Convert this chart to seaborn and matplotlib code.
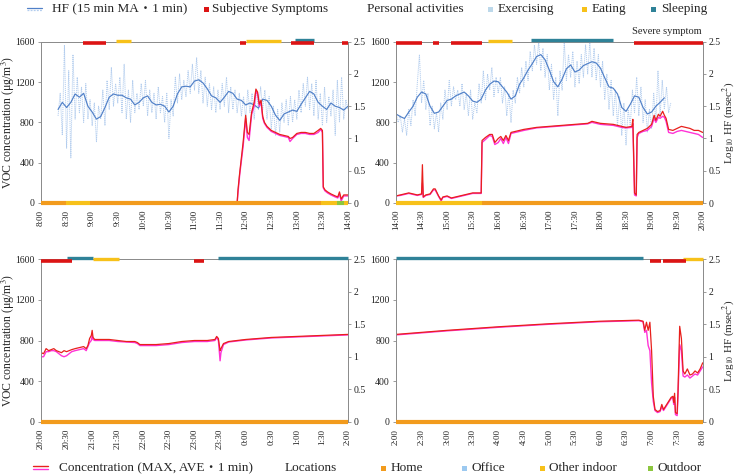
import numpy as np
import pandas as pd
import matplotlib
matplotlib.use("Agg")
import matplotlib.pyplot as plt
import seaborn as sns
from matplotlib.lines import Line2D
from matplotlib.patches import Rectangle

# ---------------- data ----------------
ticks_1 = ["8:00", "8:30", "9:00", "9:30", "10:00", "10:30", "11:00", "11:30", "12:00", "12:30", "13:00", "13:30", "14:00"]
ticks_2 = ["14:00", "14:30", "15:00", "15:30", "16:00", "16:30", "17:00", "17:30", "18:00", "18:30", "19:00", "19:30", "20:00"]
ticks_3 = ["20:00", "20:30", "21:00", "21:30", "22:00", "22:30", "23:00", "23:30", "0:00", "0:30", "1:00", "1:30", "2:00"]
ticks_4 = ["2:00", "2:30", "3:00", "3:30", "4:00", "4:30", "5:00", "5:30", "6:00", "6:30", "7:00", "7:30", "8:00"]

# HF, 15 min moving average (log10 msec^2), one value every 5 min
hf_ma_1_start = "8:20"
hf_ma_1 = [1.45, 1.56, 1.48, 1.56, 1.69, 1.64, 1.70, 1.50, 1.41, 1.30, 1.34, 1.48,
           1.64, 1.69, 1.67, 1.67, 1.63, 1.61, 1.52, 1.56, 1.63, 1.66, 1.56, 1.52,
           1.53, 1.50, 1.41, 1.50, 1.69, 1.80, 1.81, 1.80, 1.89, 1.91, 1.86, 1.77,
           1.66, 1.63, 1.56, 1.64, 1.73, 1.70, 1.61, 1.59, 1.52, 1.55, 1.52, 1.47,
           1.61, 1.59, 1.50, 1.36, 1.28, 1.38, 1.41, 1.44, 1.42, 1.53, 1.63, 1.73,
           1.69, 1.56, 1.50, 1.45, 1.55, 1.50, 1.48, 1.44, 1.50]
hf_ma_2_start = "14:00"
hf_ma_2 = [1.38, 1.34, 1.31, 1.41, 1.50, 1.64, 1.72, 1.69, 1.50, 1.39, 1.41, 1.50,
           1.59, 1.61, 1.66, 1.69, 1.72, 1.66, 1.58, 1.56, 1.61, 1.75, 1.84, 1.89,
           1.88, 1.80, 1.72, 1.61, 1.66, 1.84, 1.94, 2.06, 2.16, 2.27, 2.30, 2.22,
           2.06, 1.88, 1.80, 1.92, 2.08, 2.14, 2.03, 2.06, 2.13, 2.16, 2.19, 2.17,
           2.09, 1.94, 1.80, 1.78, 1.69, 1.48, 1.42, 1.53, 1.66, 1.64, 1.48, 1.38,
           1.41, 1.50, 1.56, 1.63]

# HF, 1 min values (sampled every 2.5 min)
hf_raw_1_start = "8:20"
hf_raw_1 = [1.35, 1.70, 1.05, 2.45, 0.85, 2.05, 0.70, 2.30, 1.30, 1.95, 1.40, 1.80,
            1.25, 1.85, 1.30, 1.60, 1.20, 1.55, 0.95, 1.50, 1.30, 1.75, 1.20, 1.90,
            1.45, 2.10, 1.50, 1.85, 1.55, 1.95, 1.40, 2.15, 1.30, 1.75, 1.25, 1.90,
            1.40, 1.70, 1.45, 1.85, 1.50, 1.90, 1.35, 1.75, 1.40, 1.70, 1.30, 1.80,
            1.40, 1.65, 1.25, 1.70, 1.00, 1.60, 1.35, 1.95, 1.55, 2.00, 1.60, 1.90,
            1.65, 2.05, 1.70, 2.15, 1.75, 2.25, 1.70, 2.05, 1.55, 1.95, 1.50, 1.85,
            1.45, 1.80, 1.40, 1.75, 1.45, 1.85, 1.50, 1.95, 1.40, 1.80, 1.45, 1.75,
            1.40, 1.70, 1.35, 1.65, 1.30, 1.75, 1.40, 1.70, 1.30, 1.75, 1.45, 1.80,
            1.45, 1.75, 1.30, 1.65, 1.15, 1.50, 1.05, 1.45, 1.10, 1.55, 1.25, 1.60,
            1.20, 1.65, 1.25, 1.60, 1.30, 1.75, 1.40, 1.85, 1.50, 1.95, 1.45, 1.85,
            1.35, 1.90, 1.30, 1.70, 1.20, 1.80, 1.25, 1.65, 1.35, 1.75, 1.05, 1.90,
            1.25, 1.95, 1.30, 1.60, 1.45]
hf_raw_2_start = "14:00"
hf_raw_2 = [1.40, 1.25, 1.35, 1.10, 1.30, 1.05, 1.45, 1.20, 1.60, 1.35, 1.85, 2.30,
            1.55, 1.90, 1.45, 1.70, 1.20, 1.50, 1.15, 1.40, 1.10, 1.55, 1.30, 1.75,
            1.45, 1.90, 1.50, 1.80, 1.60, 1.75, 1.50, 1.85, 1.45, 1.70, 1.35, 1.75,
            1.30, 1.55, 1.40, 1.85, 1.55, 2.05, 1.60, 2.00, 1.75, 2.10, 1.65, 1.95,
            1.70, 1.95, 1.55, 1.80, 1.35, 1.70, 1.25, 1.75, 1.55, 1.95, 1.70, 2.10,
            1.80, 2.20, 1.90, 2.35, 2.05, 2.45, 2.15, 2.50, 2.05, 2.40, 1.95, 2.30,
            1.75, 2.15, 1.60, 1.95, 1.35, 2.05, 1.75, 2.50, 1.90, 2.30, 1.95, 2.35,
            1.80, 2.20, 1.85, 2.30, 1.95, 2.45, 2.00, 2.50, 1.95, 2.40, 1.90, 2.30,
            1.80, 2.20, 1.60, 2.00, 1.45, 1.90, 1.35, 1.75, 1.20, 1.65, 1.05, 1.55,
            0.90, 1.45, 1.20, 1.75, 1.40, 1.95, 1.35, 1.80, 1.25, 1.60, 1.10, 1.45,
            1.15, 1.70, 1.25, 2.05, 1.35, 1.90, 1.45, 1.80, 1.40, 1.55]

# VOC concentration (ug/m3), MAX and AVE of 1 min
conc_1_time = ["11:50", "11:51", "11:53", "11:57", "12:00", "12:02", "12:04", "12:07", "12:10", "12:12",
               "12:14", "12:16", "12:18", "12:20", "12:22", "12:25", "12:30", "12:35", "12:40", "12:45",
               "12:50", "12:52", "12:55", "13:00", "13:05", "13:10", "13:15", "13:20", "13:25", "13:28",
               "13:30", "13:31", "13:33", "13:36", "13:40", "13:45", "13:48", "13:50", "13:52", "13:55", "14:00"]
conc_1_max = [0, 130, 300, 600, 870, 700, 680, 900, 1000, 1130, 1100, 980, 1020, 860, 800, 760, 720, 700, 680, 670,
              660, 640, 650, 690, 700, 700, 690, 690, 720, 740, 720, 160, 130, 110, 90, 70, 60, 110, 40, 80, 80]
conc_1_ave = [0, 100, 280, 560, 840, 650, 620, 880, 960, 1110, 1080, 960, 1000, 840, 790, 750, 710, 690, 670, 660,
              650, 610, 640, 680, 690, 690, 680, 680, 700, 730, 700, 150, 120, 100, 80, 60, 50, 90, 20, 70, 70]

conc_2_time = ["14:00", "14:05", "14:10", "14:15", "14:20", "14:25", "14:30", "14:31", "14:32", "14:35",
               "14:40", "14:44", "14:46", "14:50", "14:53", "14:55", "15:00", "15:05", "15:10", "15:20",
               "15:30", "15:40", "15:41", "15:45", "15:50", "15:53", "15:56", "16:00", "16:03", "16:06",
               "16:09", "16:12", "16:15", "16:20", "16:30", "16:45", "17:00", "17:15", "17:30", "17:45",
               "17:50", "18:00", "18:15", "18:25", "18:30", "18:37", "18:38", "18:40", "18:42", "18:43",
               "18:45", "18:50", "18:55", "19:00", "19:03", "19:05", "19:08", "19:10", "19:13", "19:15",
               "19:17", "19:20", "19:25", "19:30", "19:35", "19:40", "19:45", "19:50", "19:55", "20:00"]
conc_2_max = [70, 80, 90, 100, 90, 80, 90, 380, 60, 80, 90, 140, 140, 70, 30, 60, 70, 50, 60, 80,
              100, 100, 620, 650, 680, 680, 600, 640, 660, 620, 670, 620, 700, 710, 730, 750, 760, 770, 780, 790,
              810, 790, 780, 760, 750, 760, 830, 100, 80, 680, 700, 720, 740, 780, 870, 820, 880, 860, 910, 870,
              840, 730, 720, 740, 760, 750, 740, 720, 720, 700]
conc_2_ave = [70, 75, 85, 95, 85, 75, 85, 200, 55, 75, 85, 130, 130, 65, 20, 55, 65, 45, 55, 75,
              95, 95, 600, 630, 670, 660, 580, 600, 640, 590, 650, 590, 690, 700, 720, 745, 755, 765, 775, 785,
              800, 780, 770, 750, 745, 750, 790, 80, 70, 650, 690, 710, 720, 760, 840, 800, 850, 840, 860, 850,
              810, 700, 690, 710, 720, 710, 700, 690, 680, 650]

conc_3_time = ["20:00", "20:03", "20:06", "20:09", "20:12", "20:15", "20:18", "20:21", "20:24", "20:27",
               "20:30", "20:33", "20:36", "20:40", "20:45", "20:50", "20:53", "20:55", "20:57", "20:59",
               "21:00", "21:01", "21:03", "21:10", "21:20", "21:30", "21:40", "21:50", "21:53", "21:56",
               "22:00", "22:15", "22:30", "22:45", "23:00", "23:15", "23:24", "23:26", "23:28", "23:30",
               "23:31", "23:34", "23:40", "23:50", "0:00", "0:30", "1:00", "1:30", "2:00"]
conc_3_max = [680, 670, 720, 700, 710, 720, 700, 690, 680, 700, 690, 700, 710, 720, 730, 740, 720, 750, 820, 850,
              900, 830, 810, 810, 810, 800, 790, 790, 780, 760, 760, 760, 770, 790, 800, 800, 810, 840, 820, 700,
              720, 770, 790, 800, 810, 830, 840, 850, 860]
conc_3_ave = [640, 640, 690, 690, 700, 700, 690, 670, 650, 640, 650, 670, 690, 700, 710, 720, 700, 740, 780, 800,
              850, 810, 800, 800, 800, 790, 785, 780, 770, 750, 750, 750, 760, 780, 790, 790, 800, 830, 800, 600,
              680, 760, 785, 795, 805, 825, 835, 845, 855]

conc_4_time = ["2:00", "3:00", "4:00", "5:00", "6:00", "6:45", "6:50", "6:52", "6:54", "6:56",
               "6:58", "7:00", "7:02", "7:04", "7:07", "7:10", "7:12", "7:14", "7:17", "7:20",
               "7:23", "7:25", "7:26", "7:27", "7:28", "7:30", "7:31", "7:33", "7:35", "7:37",
               "7:39", "7:42", "7:45", "7:48", "7:51", "7:54", "7:57", "8:00"]
conc_4_max = [860, 900, 935, 965, 990, 1000, 990, 900, 980, 900, 980, 700, 250, 120, 100, 110, 170, 120, 160, 200,
              240, 250, 190, 280, 90, 80, 300, 940, 820, 500, 470, 520, 460, 470, 500, 480, 520, 580]
conc_4_ave = [855, 895, 930, 960, 985, 995, 985, 880, 900, 750, 700, 380, 200, 110, 90, 100, 150, 110, 150, 190,
              230, 240, 170, 240, 70, 60, 250, 760, 700, 450, 440, 460, 430, 450, 470, 460, 500, 540]

# intervals (start, end)
symptoms_1 = [("8:49", "9:16"), ("11:53", "12:00"), ("12:53", "13:20"), ("13:53", "14:00")]
symptoms_2 = [("14:00", "14:31"), ("14:44", "14:51"), ("15:04", "15:41"), ("18:39", "20:00")]
symptoms_3 = [("20:00", "20:36"), ("22:59", "23:11")]
symptoms_4 = [("6:58", "7:11"), ("7:13", "7:40")]

eating_1 = [("9:28", "9:46"), ("12:00", "12:41")]
eating_2 = [("15:48", "16:16")]
eating_3 = [("21:01", "21:31")]
eating_4 = [("7:37", "8:00")]
sleeping_1 = [("12:58", "13:20")]
sleeping_2 = [("16:38", "18:15")]
sleeping_3 = [("20:30", "21:01"), ("23:28", "2:00")]
sleeping_4 = [("2:00", "6:50")]

home_1 = [("8:00", "8:29"), ("8:57", "13:28")]
other_1 = [("8:29", "8:57"), ("13:28", "13:47"), ("13:55", "14:00")]
outdoor_1 = [("13:47", "13:55")]
home_2 = [("15:41", "20:00")]
other_2 = [("14:00", "15:41")]
home_3 = [("20:00", "2:00")]
home_4 = [("2:00", "8:00")]

# ---------------- style ----------------
C_MA = "#5080c8"
C_RAW = "#b3cdee"
C_MAX = "#e8201c"
C_AVE = "#ff33d6"
C_SYM = "#dc1414"
C_EXER = "#bcd8ea"
C_EAT = "#f7c11a"
C_SLEEP = "#2f8298"
C_HOME = "#f29b1d"
C_OFFICE = "#9cc9f0"
C_OTHER = "#f7c11a"
C_OUT = "#8cc63e"
C_AX = "#8c8c8c"

sns.set_style("white")
plt.rcParams['font.family'] = ['Liberation Serif', 'Noto Sans CJK JP', 'DejaVu Sans']
plt.rcParams['mathtext.fontset'] = 'stix'


def to_h(s, start):
    h, m = s.split(":")
    t = int(h) + int(m) / 60
    if t < start - 1e-9:
        t += 24
    return t


def grid_times(start_str, start, n, step_min):
    t0 = to_h(start_str, start)
    return [t0 + i * step_min / 60 for i in range(n)]


panels = [
    dict(start=8, ticks=ticks_1, pos=(41, 41.7, 348, 203),
         conc=(conc_1_time, conc_1_max, conc_1_ave),
         hf=(hf_ma_1_start, hf_ma_1, hf_raw_1_start, hf_raw_1),
         sym=symptoms_1, eat=eating_1, sleep=sleeping_1,
         home=home_1, other=other_1, out=outdoor_1),
    dict(start=14, ticks=ticks_2, pos=(396, 41.7, 702.7, 203),
         conc=(conc_2_time, conc_2_max, conc_2_ave),
         hf=(hf_ma_2_start, hf_ma_2, hf_raw_2_start, hf_raw_2),
         sym=symptoms_2, eat=eating_2, sleep=sleeping_2,
         home=home_2, other=other_2, out=[]),
    dict(start=20, ticks=ticks_3, pos=(41, 259.3, 348, 421.7),
         conc=(conc_3_time, conc_3_max, conc_3_ave), hf=None,
         sym=symptoms_3, eat=eating_3, sleep=sleeping_3,
         home=home_3, other=[], out=[]),
    dict(start=2, ticks=ticks_4, pos=(396, 259.3, 702.7, 421.7),
         conc=(conc_4_time, conc_4_max, conc_4_ave), hf=None,
         sym=symptoms_4, eat=eating_4, sleep=sleeping_4,
         home=home_4, other=[], out=[]),
]

W, H = 737, 474
fig = plt.figure(figsize=(W / 100, H / 100), dpi=100)


def fx(px):
    return px / W


def fy(py):
    return 1 - py / H


def bands(ax, intervals, start, y, color, lw):
    if not intervals:
        return
    xs = [to_h(a, start) for a, b in intervals]
    xe = [to_h(b, start) for a, b in intervals]
    xe = [e if e > s else e + 24 for s, e in zip(xs, xe)]
    ax.hlines([y] * len(xs), xs, xe, colors=color, lw=lw, clip_on=False, zorder=5)


for i, p in enumerate(panels):
    x0, y0, x1, y1 = p["pos"]
    ax = fig.add_axes([fx(x0), fy(y1), fx(x1 - x0), (y1 - y0) / H])
    tw = ax.twinx()
    st = p["start"]

    if p["hf"] is not None:
        ma_start, ma, raw_start, raw = p["hf"]
        raw_df = pd.DataFrame({"t": grid_times(raw_start, st, len(raw), 2.5), "hf": raw})
        ma_df = pd.DataFrame({"t": grid_times(ma_start, st, len(ma), 5), "hf": ma})
        sns.lineplot(data=raw_df, x="t", y="hf", ax=tw, color=C_RAW, lw=0.7,
                     linestyle=(0, (1.2, 0.9)), estimator=None)
        sns.lineplot(data=ma_df, x="t", y="hf", ax=tw, color=C_MA, lw=0.85, estimator=None)

    ct, cmax, cave = p["conc"]
    cdf = pd.DataFrame({"t": [to_h(s, st) for s in ct], "max": cmax, "ave": cave})
    sns.lineplot(data=cdf, x="t", y="ave", ax=ax, color=C_AVE, lw=1.0, estimator=None)
    sns.lineplot(data=cdf, x="t", y="max", ax=ax, color=C_MAX, lw=0.9, estimator=None)

    # activity / symptom / location bands
    bands(ax, p["sleep"], st, 1612, C_SLEEP, 2.4)
    bands(ax, p["eat"], st, 1606, C_EAT, 2.4)
    bands(ax, p["sym"], st, 1588, C_SYM, 2.6)
    bands(ax, p["home"], st, 0, C_HOME, 3.0)
    bands(ax, p["other"], st, 0, C_OTHER, 3.0)
    bands(ax, p["out"], st, 0, C_OUT, 3.0)

    ax.set_zorder(tw.get_zorder() + 1)
    ax.patch.set_visible(False)

    ax.set_xlim(st, st + 6)
    ax.set_ylim(0, 1600)
    tw.set_ylim(0, 2.5)
    ax.set_xticks([st + k * 0.5 for k in range(len(p["ticks"]))])
    ax.set_xticklabels(p["ticks"], rotation=90, fontsize=6.5)
    ax.set_yticks([0, 400, 800, 1200, 1600])
    ax.set_yticklabels(["0", "400", "800", "1200", "1600"], fontsize=7)
    tw.set_yticks([0, 0.5, 1, 1.5, 2, 2.5])
    tw.set_yticklabels(["0", "0.5", "1", "1.5", "2", "2.5"], fontsize=7)
    for a in (ax, tw):
        a.set_xlabel("")
        a.set_ylabel("")
        for sp in a.spines.values():
            sp.set_color(C_AX)
            sp.set_linewidth(0.7)
        a.spines["bottom"].set_visible(False)
        a.tick_params(length=2.5, color=C_AX, width=0.6, pad=2, labelcolor="#222222")
    ax.tick_params(axis="x", length=2, pad=3)
    tw.tick_params(axis="y", pad=1.5)

    yc = fy((y0 + y1) / 2)
    if i in (0, 2):
        fig.text(fx(8), yc, "VOC concentration (μg/m$^{3}$)", rotation=90,
                 ha="center", va="center", fontsize=8.5)
    else:
        fig.text(fx(728.5), yc, "Log$_{10}$ HF (msec$^{2}$)", rotation=90,
                 ha="center", va="center", fontsize=8)

fig.text(fx(667), fy(31), "Severe symptom", ha="center", va="center", fontsize=7.5)


# ---------------- legends ----------------
def leg_line(x0, x1, y, color, ls="-", lw=1.0):
    fig.add_artist(Line2D([fx(x0), fx(x1)], [fy(y), fy(y)], transform=fig.transFigure,
                          color=color, lw=lw, linestyle=ls))


def leg_square(x, y, color, s=5):
    fig.add_artist(Rectangle((fx(x), fy(y + s / 2)), s / W, s / H,
                             transform=fig.transFigure, color=color, lw=0))


def leg_text(x, y, s):
    fig.text(fx(x), fy(y), s, ha="left", va="center", fontsize=9.5)


ytop = 9.3
leg_line(27, 42, 7.7, C_MA, lw=0.9)
leg_line(27, 42, 10.2, C_RAW, ls=(0, (1.5, 1)), lw=0.9)
leg_text(52, ytop, "HF (15 min MA・1 min)")
leg_square(204, ytop, C_SYM)
leg_text(212, ytop, "Subjective Symptoms")
leg_text(367, ytop, "Personal activities")
leg_square(488, ytop, C_EXER)
leg_text(498, ytop, "Exercising")
leg_square(582, ytop, C_EAT)
leg_text(592, ytop, "Eating")
leg_square(651, ytop, C_SLEEP)
leg_text(661, ytop, "Sleeping")

ybot = 468
leg_line(33, 48, 466.3, C_MAX, lw=1.0)
leg_line(33, 48, 469.0, C_AVE, lw=1.0)
leg_text(59, ybot, "Concentration (MAX, AVE・1 min)")
leg_text(285, ybot, "Locations")
leg_square(381, ybot, C_HOME)
leg_text(391, ybot, "Home")
leg_square(462, ybot, C_OFFICE)
leg_text(472, ybot, "Office")
leg_square(540, ybot, C_OTHER)
leg_text(549, ybot, "Other indoor")
leg_square(648, ybot, C_OUT)
leg_text(657, ybot, "Outdoor")

fig.savefig("out.png", dpi=100)
